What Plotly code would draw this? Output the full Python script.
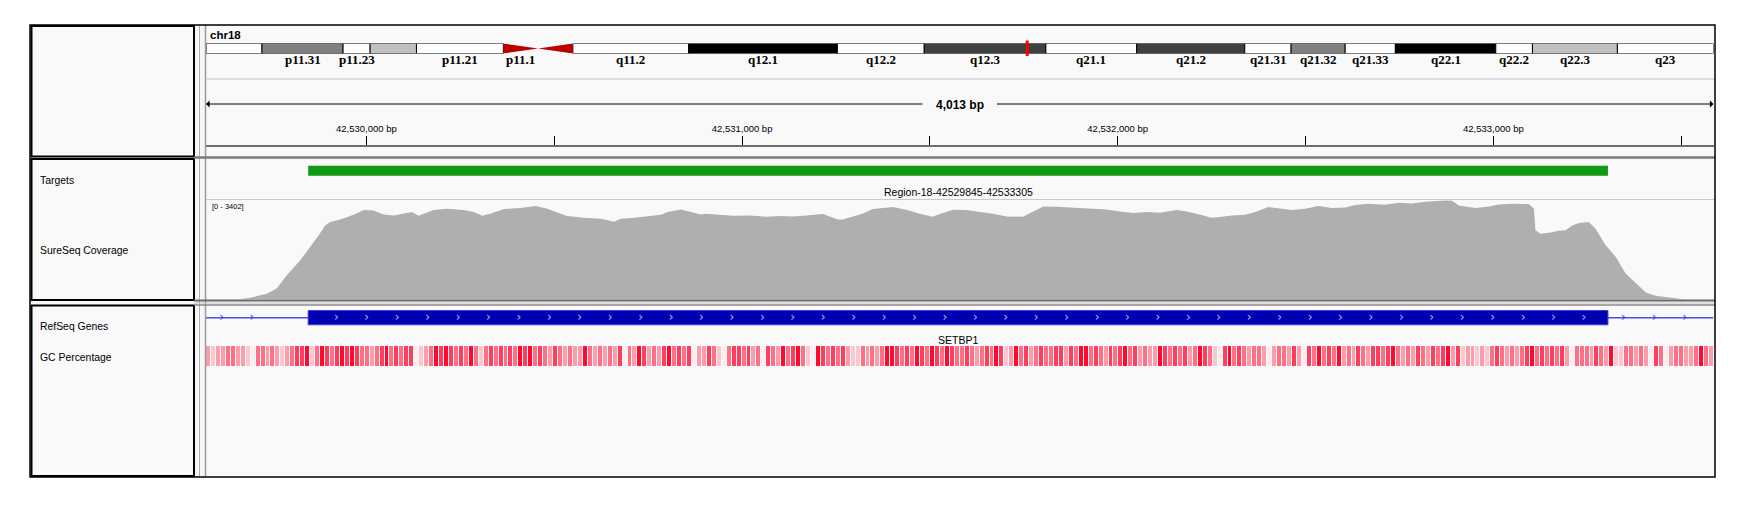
import numpy as np
import plotly.graph_objects as go

W, H = 1750, 509
PAGE_MARGIN = 8  # default body margin of the written page

# locus shown
chrom = "chr18"
view_start = 42529573
view_end = 42533586
chrom_len_mb = 78.077

# cytobands of chr18 (Mb)
band_names = ["p11.32", "p11.31", "p11.23", "p11.22", "p11.21", "p11.1", "q11.1", "q11.2", "q12.1", "q12.2",
              "q12.3", "q21.1", "q21.2", "q21.31", "q21.32", "q21.33", "q22.1", "q22.2", "q22.3", "q23"]
band_start_mb = [0.0, 2.9, 7.1, 8.5, 10.9, 15.4, 17.2, 19.0, 25.0, 32.7,
                 37.2, 43.5, 48.2, 53.8, 56.2, 59.0, 61.6, 66.8, 68.7, 73.1]
band_end_mb = [2.9, 7.1, 8.5, 10.9, 15.4, 17.2, 19.0, 25.0, 32.7, 37.2,
               43.5, 48.2, 53.8, 56.2, 59.0, 61.6, 66.8, 68.7, 73.1, 78.077]
band_stain = ["gneg", "gpos50", "gneg", "gpos25", "gneg", "acen", "acen", "gneg", "gpos100", "gneg",
              "gpos75", "gneg", "gpos75", "gneg", "gpos50", "gneg", "gpos100", "gneg", "gpos25", "gneg"]
band_label_shown = [False, True, True, False, True, True, False, True, True, True,
                    True, True, True, True, True, True, True, True, True, True]

# ruler
ruler_major = [42530000, 42531000, 42532000, 42533000]
ruler_labels = ["42,530,000 bp", "42,531,000 bp", "42,532,000 bp", "42,533,000 bp"]
ruler_minor_step = 500

# targets / genes
target_start = 42529845
target_end = 42533305
target_name = "Region-18-42529845-42533305"
gene_name = "SETBP1"
gene_block_start = 42529845
gene_block_end = 42533305
gene_line_arrows = [42529615, 42529695, 42533346, 42533428, 42533509]

# SureSeq coverage
cov_max = 3402
cov_pos = [42529573, 42529575, 42529664, 42529690, 42529735, 42529761, 42529788, 42529824, 42529850, 42529873,
           42529890, 42529904, 42529930, 42529966, 42529993, 42530019, 42530046, 42530073, 42530121, 42530139,
           42530179, 42530215, 42530259, 42530286, 42530308, 42530330, 42530366, 42530410, 42530450, 42530482,
           42530517, 42530535, 42530579, 42530624, 42530659, 42530677, 42530713, 42530748, 42530784, 42530802,
           42530837, 42530864, 42530890, 42530904, 42530940, 42530975, 42531020, 42531064, 42531100, 42531135,
           42531171, 42531215, 42531237, 42531255, 42531268, 42531295, 42531322, 42531348, 42531384, 42531402,
           42531437, 42531473, 42531508, 42531526, 42531562, 42531597, 42531633, 42531668, 42531704, 42531748,
           42531775, 42531802, 42531837, 42531882, 42531926, 42531971, 42532006, 42532042, 42532077, 42532113,
           42532157, 42532184, 42532220, 42532250, 42532277, 42532303, 42532339, 42532366, 42532401, 42532428,
           42532463, 42532499, 42532534, 42532570, 42532606, 42532632, 42532668, 42532712, 42532748, 42532783,
           42532819, 42532872, 42532890, 42532908, 42532952, 42532988, 42533014, 42533050, 42533094, 42533108,
           42533112, 42533126, 42533148, 42533174, 42533192, 42533210, 42533228, 42533254, 42533272, 42533299,
           42533326, 42533352, 42533379, 42533406, 42533432, 42533459, 42533486, 42533512, 42533586]
cov_depth = [0, 0, 11, 57, 193, 374, 828, 1338, 1792, 2189,
             2529, 2642, 2733, 2892, 3050, 3039, 2903, 2869, 2982, 2858,
             3050, 3096, 3050, 2982, 2858, 2926, 3084, 3119, 3187, 3096,
             2926, 2846, 2790, 2756, 2654, 2756, 2790, 2846, 2892, 2982,
             3073, 2982, 2903, 2926, 2903, 2858, 2869, 2824, 2846, 2835,
             2869, 2914, 2812, 2733, 2733, 2824, 2937, 3084, 3130, 3153,
             3062, 2926, 2824, 2914, 3062, 3050, 2982, 2926, 2835, 2824,
             3005, 3175, 3164, 3141, 3107, 3073, 3005, 2948, 2982, 2960,
             3050, 3005, 2892, 2790, 2824, 2869, 2892, 2982, 3153, 3119,
             3050, 3096, 3187, 3119, 3141, 3221, 3266, 3232, 3300, 3277,
             3334, 3379, 3368, 3209, 3119, 3175, 3243, 3266, 3255, 3096,
             2359, 2245, 2279, 2347, 2359, 2529, 2608, 2642, 2415, 1848,
             1452, 885, 544, 238, 125, 79, 23, 0, 0]

# GC percentage, shade class per window (0 = low ... 5 = high)
gc_class = [2, 1, 2, 2, 3, 3, 2, 2, 1, 0, 3, 3, 2, 3, 2, 1, 2, 3, 4, 4,
            5, 1, 3, 5, 4, 3, 4, 5, 4, 5, 4, 3, 3, 2, 3, 4, 5, 3, 4, 3,
            4, 4, 0, 1, 2, 3, 5, 4, 5, 4, 3, 4, 3, 5, 3, 1, 3, 4, 3, 4,
            3, 4, 3, 5, 4, 5, 3, 4, 3, 2, 4, 3, 2, 3, 2, 2,
            5, 3, 2, 3, 2, 3, 2, 4, 0, 3, 2, 5, 4, 2, 3, 2, 4, 5, 3, 4,
            3, 4, 0, 2, 2, 4, 3, 1, 0, 3, 4, 4, 3, 4, 2, 3, 0, 4, 3, 2,
            5, 3, 4, 5, 3, 1, 0, 5, 4, 3, 4, 3, 4, 2, 1, 1, 3, 2, 3, 2,
            3, 5, 5, 4, 3, 4, 3, 5, 4, 3, 5, 4, 3, 5, 4, 3,
            3, 4, 3, 2, 3, 4, 3, 5, 4, 1, 2, 5, 3, 4, 2, 3, 4, 3, 3, 4,
            4, 2, 4, 3, 5, 5, 3, 4, 3, 2, 4, 3, 4, 5, 3, 4, 2, 3, 2, 2,
            5, 4, 3, 4, 3, 4, 2, 3, 5, 4, 3, 1, 0, 4, 5, 3, 4, 3, 2, 3,
            3, 2, 0, 2, 3, 3, 2, 4, 2, 0, 4, 3, 5, 3, 4, 3,
            5, 2, 3, 2, 4, 3, 2, 4, 4, 3, 4, 5, 3, 2, 3, 2, 4, 3, 2, 4,
            3, 4, 5, 2, 4, 1, 2, 2, 1, 2, 1, 3, 4, 3, 2, 3, 2, 3, 4, 5,
            3, 4, 3, 4, 3, 4, 2, 0, 3, 3, 3, 2, 4, 3, 2, 5, 1, 1, 3, 3,
            2, 3, 2, 0, 4, 3, 0, 2, 3, 3, 2, 2, 3, 5, 3, 2]
gc_colors = ["#fbeef0", "#fcc8d0", "#fd9dac", "#ff6f86", "#ff3d5c", "#ff0a2e"]

stain_color = {"gneg": "#ffffff", "gpos25": "#c0c0c0", "gpos50": "#808080",
               "gpos75": "#404040", "gpos100": "#000000"}

SANS = "Liberation Sans"


def fx(px):
    return (px - PAGE_MARGIN) / W


def fy(py):
    return 1 - (py - PAGE_MARGIN) / H


def dom(top, bottom):
    return [fy(bottom), fy(top)]


DATA_L, DATA_R = 206, 1713.5
xdom = [fx(DATA_L), fx(DATA_R)]

fig = go.Figure()

# coverage
fig.add_trace(go.Scatter(x=cov_pos, y=cov_depth, mode="lines", fill="tozeroy",
                         line=dict(width=0, color="#afafaf"), fillcolor="#afafaf",
                         xaxis="x", yaxis="y", hoverinfo="skip"))

# GC percentage
dx = (view_end - view_start) / len(gc_class)
cs = []
for i, c in enumerate(gc_colors):
    cs.append([i / len(gc_colors), c])
    cs.append([(i + 1) / len(gc_colors), c])
fig.add_trace(go.Heatmap(z=[gc_class], x0=view_start + dx / 2, dx=dx, y=[0], xgap=1,
                         colorscale=cs, zmin=-0.5, zmax=len(gc_colors) - 0.5,
                         showscale=False, xaxis="x", yaxis="y4", hoverinfo="skip"))

# ideogram
idx = [i for i, s in enumerate(band_stain) if s != "acen"]
fig.add_trace(go.Bar(y=[0] * len(idx), base=[band_start_mb[i] for i in idx],
                     x=[band_end_mb[i] - band_start_mb[i] for i in idx], orientation="h", width=1,
                     marker=dict(color=[stain_color[band_stain[i]] for i in idx],
                                 line=dict(color="#000000", width=1)),
                     xaxis="x2", yaxis="y2", hoverinfo="skip"))
for i, s in enumerate(band_stain):
    if s != "acen":
        continue
    if band_names[i].startswith("p"):
        xs = [band_start_mb[i], band_start_mb[i], band_end_mb[i], band_start_mb[i]]
    else:
        xs = [band_end_mb[i], band_end_mb[i], band_start_mb[i], band_end_mb[i]]
    fig.add_trace(go.Scatter(x=xs, y=[-0.5, 0.5, 0, -0.5], mode="lines", fill="toself", fillcolor="#bb0000",
                             line=dict(width=0, color="#bb0000"), xaxis="x2", yaxis="y2", hoverinfo="skip"))

# gene strand chevrons
box_chev = np.arange(gene_block_start + 75, gene_block_end - 40, 81)
fig.add_trace(go.Scatter(x=box_chev, y=[0.5] * len(box_chev), mode="text", text=["›"] * len(box_chev),
                         textfont=dict(size=12, color="#b4b4ff", family="DejaVu Sans"),
                         xaxis="x", yaxis="y5", hoverinfo="skip"))
fig.add_trace(go.Scatter(x=gene_line_arrows, y=[0.5] * len(gene_line_arrows), mode="text",
                         text=["›"] * len(gene_line_arrows),
                         textfont=dict(size=12, color="#3a3aff", family="DejaVu Sans"),
                         xaxis="x", yaxis="y5", hoverinfo="skip"))

# ruler axis carrier
fig.add_trace(go.Scatter(x=[view_start], y=[0], mode="markers", marker=dict(opacity=0),
                         xaxis="x3", yaxis="y6", hoverinfo="skip"))

shapes = []


def rect(x0, y0, x1, y1, fill=None, line=None, lw=1, layer="below"):
    shapes.append(dict(type="rect", xref="paper", yref="paper", x0=fx(x0), x1=fx(x1), y0=fy(y1), y1=fy(y0),
                       fillcolor=fill if fill else "rgba(0,0,0,0)",
                       line=dict(color=line if line else "rgba(0,0,0,0)", width=lw if line else 0), layer=layer))


def hline(y, x0, x1, color, lw=1, layer="above"):
    shapes.append(dict(type="line", xref="paper", yref="paper", x0=fx(x0), x1=fx(x1), y0=fy(y), y1=fy(y),
                       line=dict(color=color, width=lw), layer=layer))


def vline(x, y0, y1, color, lw=1, layer="above"):
    shapes.append(dict(type="line", xref="paper", yref="paper", x0=fx(x), x1=fx(x), y0=fy(y0), y1=fy(y1),
                       line=dict(color=color, width=lw), layer=layer))


# panel backgrounds
rect(30, 25, 1715, 477, fill="#f9f9f9")
rect(194, 25, 206, 477, fill="#f6f6f6")
# name panels
rect(31.5, 26, 194, 156.5, line="#000000", lw=2)
rect(31.5, 159, 194, 300, line="#000000", lw=2)
rect(31.5, 305.5, 194, 476, line="#000000", lw=2)
# attribute column lines
vline(199.5, 25, 477, "#b0b0b0", 1)
vline(205.5, 25, 477, "#9a9a9a", 1.5)
# separators
hline(79, DATA_L, 1715, "#d4d4dc", 1.5)
hline(157.5, 194, 1715, "#7a7a7a", 2.5)
hline(199.5, DATA_L, 1715, "#c8c8d6", 1)
hline(300.5, 194, 1715, "#6a6a6a", 2)
hline(303, 194, 1715, "#c4c4c4", 1)
hline(305, 194, 1715, "#8a8a8a", 1.5)
# outer frame
rect(30, 25, 1715, 477, line="#000000", lw=1.5, layer="above")

# targets bar
shapes.append(dict(type="rect", xref="x", yref="paper", x0=target_start, x1=target_end,
                   y0=fy(175.7), y1=fy(165.7), fillcolor="#119911", line=dict(width=0), layer="above"))
# gene line and block
shapes.append(dict(type="line", xref="x", yref="paper", x0=view_start, x1=view_end,
                   y0=fy(317.7), y1=fy(317.7), line=dict(color="#4b4bf0", width=1.5), layer="below"))
shapes.append(dict(type="rect", xref="x", yref="paper", x0=gene_block_start, x1=gene_block_end,
                   y0=fy(324.8), y1=fy(310.5), fillcolor="#0000b2", line=dict(color="#3c3cd8", width=1),
                   layer="below"))
# current locus marker on ideogram
locus_mb = (view_start + view_end) / 2 / 1e6
shapes.append(dict(type="rect", xref="x2", yref="paper", x0=locus_mb - 0.075, x1=locus_mb + 0.075,
                   y0=fy(56), y1=fy(40.5), fillcolor="#ff0000", line=dict(width=0), layer="above"))

annotations = []


def text(x, y, s, size=9, xref="paper", anchor="left", bold=False, family=SANS, color="#000000"):
    annotations.append(dict(x=x if xref != "paper" else fx(x), y=fy(y), xref=xref, yref="paper",
                            text=f"<b>{s}</b>" if bold else s, showarrow=False, xanchor=anchor,
                            yanchor="middle", font=dict(size=size, family=family, color=color)))


text(208, 34.5, chrom, size=11.5, bold=True)
for i, name in enumerate(band_names):
    if band_label_shown[i]:
        text((band_start_mb[i] + band_end_mb[i]) / 2, 60, name, size=13, xref="x2", anchor="center",
             bold=True, family="Liberation Serif")

# ruler span arrows and label
span_bp = view_end - view_start
center_bp = (view_start + view_end) / 2
gap = 95
for tip, tail in [(view_start, center_bp - gap), (view_end, center_bp + gap)]:
    annotations.append(dict(x=tip, y=fy(104), xref="x", yref="paper", ax=tail, ay=0, axref="x", ayref="pixel",
                            text="", showarrow=True, arrowhead=1, arrowsize=1.2, arrowwidth=1,
                            arrowcolor="#000000", standoff=0, startstandoff=0))
text(center_bp, 104.5, f"{span_bp:,} bp", size=12, xref="x", anchor="center", bold=True)

text(210, 206.5, f"[0 - {cov_max}]", size=7.5)
text((target_start + target_end) / 2, 192.3, target_name, size=10.5, xref="x", anchor="center")
text((gene_block_start + gene_block_end) / 2, 339.5, gene_name, size=10.5, xref="x", anchor="center")

text(37.5, 180, "Targets", size=10.4)
text(37.5, 250.5, "SureSeq Coverage", size=10.4)
text(37.5, 326.5, "RefSeq Genes", size=10.4)
text(37.5, 357, "GC Percentage", size=10.4)

hidden = dict(visible=False, showgrid=False, zeroline=False)
fig.update_layout(
    width=W, height=H, margin=dict(l=0, r=0, t=0, b=0),
    paper_bgcolor="#ffffff", plot_bgcolor="rgba(0,0,0,0)", showlegend=False,
    xaxis=dict(domain=xdom, range=[view_start, view_end], anchor="y", **hidden),
    xaxis2=dict(domain=xdom, range=[0, chrom_len_mb], anchor="y2", **hidden),
    xaxis3=dict(domain=xdom, range=[view_start, view_end], anchor="free", position=fy(145.5), side="top",
                showline=True, linecolor="#6e6e6e", linewidth=2, ticks="outside", ticklen=9, tickwidth=1,
                tickcolor="#000000", tickvals=ruler_major, ticktext=ruler_labels,
                tickfont=dict(size=9.5, family=SANS, color="#000000"), showgrid=False, zeroline=False,
                minor=dict(tick0=ruler_major[0], dtick=ruler_minor_step, ticks="outside", ticklen=9,
                           tickwidth=1, tickcolor="#000000", showgrid=False)),
    yaxis=dict(domain=dom(199.8, 299.5), range=[0, cov_max], anchor="x", **hidden),
    yaxis2=dict(domain=dom(43.5, 53.5), range=[-0.5, 0.5], anchor="x2", **hidden),
    yaxis4=dict(domain=dom(346, 366), range=[-0.5, 0.5], anchor="x", **hidden),
    yaxis5=dict(domain=dom(310, 325), range=[0, 1], anchor="x", **hidden),
    yaxis6=dict(domain=dom(130, 140), range=[0, 1], anchor="x3", **hidden),
    shapes=shapes, annotations=annotations,
)

fig.write_html("out.html")
